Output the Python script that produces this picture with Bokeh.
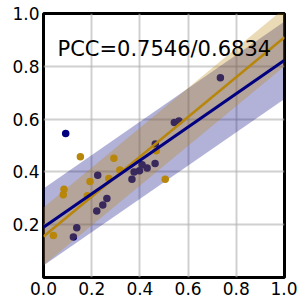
from bokeh.plotting import figure
from bokeh.models import Range1d, Label, FixedTicker
from bokeh.embed import file_html
from bokeh.resources import INLINE

# navy series (points)
navy_x = [0.092, 0.124, 0.138, 0.225, 0.221, 0.246, 0.263, 0.367, 0.376, 0.398,
          0.409, 0.430, 0.463, 0.464, 0.543, 0.562, 0.734]
navy_y = [0.545, 0.153, 0.188, 0.387, 0.252, 0.275, 0.299, 0.372, 0.400, 0.404,
          0.427, 0.415, 0.432, 0.506, 0.587, 0.593, 0.757]
# orange series (points)
orange_x = [0.041, 0.082, 0.085, 0.153, 0.182, 0.193, 0.271, 0.292, 0.317, 0.468, 0.505]
orange_y = [0.159, 0.313, 0.334, 0.457, 0.310, 0.364, 0.375, 0.452, 0.407, 0.480, 0.372]

# fitted lines and bands at x = 0 and x = 1
fit_x = [0.0, 1.0]
navy_fit = [0.190, 0.823]
navy_lo = [0.045, 0.676]
navy_hi = [0.337, 0.970]
orange_fit = [0.155, 0.910]
orange_lo = [0.046, 0.800]
orange_hi = [0.265, 1.020]

ticks = [0.0, 0.2, 0.4, 0.6, 0.8, 1.0]
y_ticks = [0.2, 0.4, 0.6, 0.8, 1.0]
annotation = "PCC=0.7546/0.6834"

NAVY = "#000080"
ORANGE = "#b8860b"

p = figure(width=297, height=297, output_backend="svg", toolbar_location=None,
           x_range=Range1d(0, 1), y_range=Range1d(0, 1),
           min_border_left=43, min_border_right=13, min_border_top=13, min_border_bottom=18)

p.outline_line_color = "black"
p.outline_line_width = 3
p.background_fill_color = "white"
p.border_fill_color = "white"

for ax in (p.xaxis, p.yaxis):
    ax.axis_line_color = None
    ax.major_tick_line_color = None
    ax.minor_tick_line_color = None
    ax.major_tick_out = 0
    ax.major_label_text_font = "DejaVu Sans"
    ax.major_label_text_font_size = "17px"
    ax.major_label_text_color = "black"
    ax.major_label_standoff = 4

p.xaxis.ticker = FixedTicker(ticks=ticks)
p.yaxis.ticker = FixedTicker(ticks=y_ticks)
p.xaxis.major_label_overrides = {t: f"{t:.1f}" for t in ticks}
p.yaxis.major_label_overrides = {t: f"{t:.1f}" for t in y_ticks}

p.xgrid.ticker = FixedTicker(ticks=ticks)
p.ygrid.ticker = FixedTicker(ticks=ticks)
for g in (p.xgrid, p.ygrid):
    g.grid_line_color = "#b0b0b0"
    g.grid_line_alpha = 0.6
    g.grid_line_width = 2

# navy band
p.varea(x=fit_x, y1=navy_lo, y2=navy_hi, fill_color=NAVY, fill_alpha=0.3)
# navy points
p.scatter(navy_x, navy_y, size=7.5, fill_color=NAVY, line_color=None)
# orange band
p.varea(x=fit_x, y1=orange_lo, y2=orange_hi, fill_color=ORANGE, fill_alpha=0.3)
# orange points
p.scatter(orange_x, orange_y, size=7.5, fill_color=ORANGE, line_color=None)
# fit lines
p.line(fit_x, orange_fit, line_color=ORANGE, line_width=2.5)
p.line(fit_x, navy_fit, line_color=NAVY, line_width=3)

p.add_layout(Label(x=0.058, y=0.867, text=annotation, text_font="DejaVu Sans",
                   text_font_size="21px", text_color="black", text_baseline="alphabetic"))

open("out.html", "w").write(file_html(p, INLINE))
